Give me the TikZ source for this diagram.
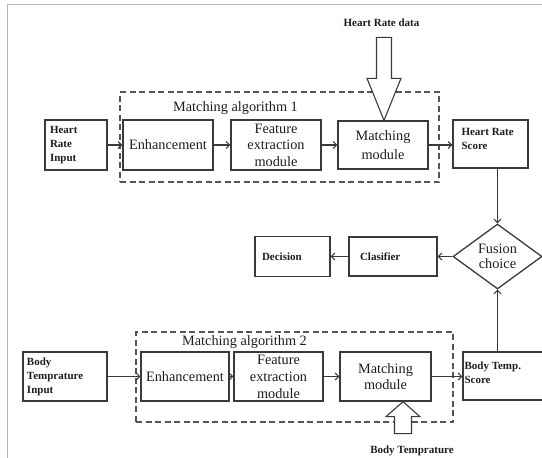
\documentclass[tikz,border=0pt]{standalone}
\usepackage{fontspec}
\setmainfont{Liberation Serif}
\usetikzlibrary{arrows.meta,shapes.geometric}
\definecolor{boxc}{HTML}{3A3A3A}
\definecolor{dashc}{HTML}{555555}
\definecolor{txtc}{HTML}{1E1E1E}
\definecolor{framec}{HTML}{B4B4B4}
\begin{document}
\begin{tikzpicture}[x=1pt,y=-1pt,
  box/.style={draw=boxc,line width=1.3pt,inner sep=0pt,fill=white},
  big/.style={font=\fontsize{14.3}{16.5}\selectfont,align=center,text=txtc},
  bigm/.style={font=\fontsize{14.3}{19}\selectfont,align=center,text=txtc},
  small/.style={font=\bfseries\fontsize{11}{14}\selectfont,align=left,text=txtc},
  dashbox/.style={draw=dashc,line width=1.2pt,dash pattern=on 6pt off 3.5pt,inner sep=0pt},
  conn/.style={draw=boxc,line width=1.1pt,-{Straight Barb[length=3.5pt,width=7pt]}},
  hollow/.style={draw=boxc,line width=1.1pt,fill=white,line join=miter},
  framel/.style={draw=framec,line width=1pt}]
\useasboundingbox (0,0) rectangle (542,458);
\clip (0,0) rectangle (542,458);
\fill[white] (0,0) rectangle (542,458);
\draw[framel] (7,458) -- (7,4) -- (542,4);
% dashed groups
\node[dashbox,minimum width=319pt,minimum height=90pt] (alg1) at (279.5,137) {};
\node[big] (alg1t) at (235.5,108) {Matching algorithm 1};
\node[dashbox,minimum width=317pt,minimum height=90pt] (alg2) at (294.5,377) {};
\node[big] (alg2t) at (244.5,342) {Matching algorithm 2};
% row 1
\node[box,small,minimum width=62pt,minimum height=50pt,text width=52pt] (hri) at (76,145) {Heart\\Rate\\Input};
\node[box,big,minimum width=90pt,minimum height=50pt] (enh1) at (168,145) {Enhancement};
\node[box,big,minimum width=90pt,minimum height=50pt] (fe1) at (276,145) {Feature\\extraction\\module};
\node[box,bigm,minimum width=90pt,minimum height=48pt] (m1) at (383,145) {Matching\\module};
\node[box,minimum width=75pt,minimum height=48pt,
  label={[small,anchor=north west,inner sep=0pt,xshift=9pt,yshift=-9pt]north west:{Heart Rate\\Score}}] (hrs) at (490.5,144) {};
% fusion row
\node[draw=boxc,line width=1.3pt,fill=white,diamond,aspect=1.37,minimum width=89pt,minimum height=65pt,inner sep=0pt,big,font=\fontsize{14.3}{14.5}\selectfont] (fus) at (497.5,256.5) {Fusion\\choice};
\node[box,small,minimum width=88pt,minimum height=39pt,text width=66pt] (cls) at (393,256.5) {Clasifier};
\node[box,small,minimum width=75pt,minimum height=40pt,text width=61pt] (dec) at (292.5,256.5) {Decision};
% row 2
\node[box,small,minimum width=84pt,minimum height=49pt,text width=76pt] (bti) at (65,376.5) {Body\\Temprature\\Input};
\node[box,big,minimum width=88pt,minimum height=49pt] (enh2) at (185,376.5) {Enhancement};
\node[box,font=\fontsize{14.3}{17}\selectfont,align=center,text=txtc,minimum width=89pt,minimum height=49pt] (fe2) at (278.5,376.5) {Feature\\extraction\\module};
\node[box,big,minimum width=91pt,minimum height=49pt] (m2) at (385.5,376.5) {Matching\\module};
\node[box,minimum width=81pt,minimum height=48pt,
  label={[small,anchor=north west,inner sep=0pt,xshift=2pt,yshift=-10pt]north west:{Body Temp.\\Score}}] (bts) at (503.5,376) {};
% data labels
\node[small] (hrd) at (381.5,23) {Heart Rate data};
\node[small] (btd) at (412,451) {Body Temprature};
% hollow arrows
\draw[hollow] ([xshift=1pt]m1.north) -- ++(-17,-42) -- ++(9.5,0) -- ++(0,-41) -- ++(15,0) -- ++(0,41) -- ++(9.5,0) -- cycle;
\draw[hollow] ([xshift=17.5pt]m2.south) -- ++(-17,15) -- ++(8.5,0) -- ++(0,17) -- ++(17,0) -- ++(0,-17) -- ++(8.5,0) -- cycle;
% connectors
\draw[conn] (hri) -- (enh1);
\draw[conn] (enh1) -- (fe1);
\draw[conn] (fe1) -- (m1);
\draw[conn] (m1.east) -- (m1.east -| hrs.west);
\draw[conn] (hrs.south -| fus.north) -- (fus.north);
\draw[conn] (bts.north -| fus.south) -- (fus.south);
\draw[conn] (fus) -- (cls);
\draw[conn] (cls) -- (dec);
\draw[conn] (bti) -- (enh2);
\draw[conn] (enh2) -- (fe2);
\draw[conn] (fe2) -- (m2);
\draw[conn] (m2.east) -- (m2.east -| bts.west);
\end{tikzpicture}
\end{document}
